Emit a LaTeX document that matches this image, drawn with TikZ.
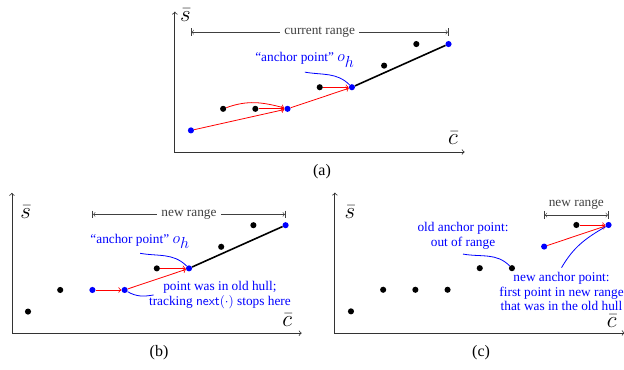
\documentclass[tikz,border=0pt]{standalone}
\usepackage{fontspec}
\setmainfont{Liberation Serif}
\usepackage{amsmath}
\usetikzlibrary{arrows}

\tikzset{
  pt/.style={circle,fill=black,inner sep=0pt,minimum size=4.6pt},
  axis/.style={<->,black!80,semithick},
  nxt/.style={->,red,semithick},
  hull/.style={very thick},
  span/.style={|<->|,black!75},
  note/.style={blue,align=center,font=\fontsize{10}{11}\selectfont},
  link/.style={blue,semithick},
  lbl/.style={font=\LARGE},
}
\newcommand{\oh}{{\large$o_{\textstyle h}$}}

\begin{document}
\begin{tikzpicture}[x=0.85cm,y=0.57cm]
\useasboundingbox (0,0) rectangle (19.38,17.13);

% (a) current range
\begin{scope}[shift={(5.43,10.09)}]
  \draw[axis] (0,6.5) |- (9,0);
  \node[lbl] (as) at (0.33,6.34) {$\bar{s}$};
  \node[lbl] (ac) at (8.64,0.63) {$\bar{c}$};
  \foreach \i/\x/\y/\c in {0/0.5/1/blue,1/1.5/2/black,2/2.5/2/black,3/3.5/2/blue,4/4.5/3/black,5/5.5/3/blue,6/6.5/4/black,7/7.5/5/black,8/8.5/5/blue}
    \node[pt,fill=\c] (a\i) at (\x,\y) {};
  \draw[hull] (a5) -- (a8);
  \draw[nxt] (a0) -- (a3);
  \draw[nxt] (a1) to[out=20,in=165] (a3);
  \draw[nxt] (a2) -- (a3);
  \draw[nxt] (a3) -- (a5);
  \draw[nxt] (a4) -- (a5);
  \coordinate (al) at (0.5,5.55);
  \coordinate (ar) at (8.5,5.55);
  \draw[span] (al) -- (ar) node[midway,fill=white] {current range};
  \node[note] (aanc) at (4.04,4.26) {``anchor point'' \oh};
  \draw[link] (aanc.south) to[out=-10,in=135] (a5);
\end{scope}

% (b) anchor point still in range
\begin{scope}[shift={(0.37,1.70)}]
  \draw[axis] (0,6.5) |- (9,0);
  \node[lbl] (bs) at (0.43,5.6) {$\bar{s}$};
  \node[lbl] (bc) at (8.55,0.62) {$\bar{c}$};
  \foreach \i/\x/\y/\c in {0/0.5/1/black,1/1.5/2/black,2/2.5/2/blue,3/3.5/2/blue,4/4.5/3/black,5/5.5/3/blue,6/6.5/4/black,7/7.5/5/black,8/8.5/5/blue}
    \node[pt,fill=\c] (b\i) at (\x,\y) {};
  \draw[hull] (b5) -- (b8);
  \draw[nxt] (b2) -- (b3);
  \draw[nxt] (b3) -- (b5);
  \draw[nxt] (b4) -- (b5);
  \coordinate (bl) at (2.5,5.5);
  \coordinate (br) at (8.5,5.5);
  \draw[span] (bl) -- (br) node[midway,fill=white] {new range};
  \node[note] (banc) at (3.98,4.26) {``anchor point'' \oh};
  \draw[link] (banc.south) to[out=-10,in=135] (b5);
  \node[note] (bnote) at (6.46,1.77) {point was in old hull;\\tracking $\mathsf{next}(\cdot)$ stops here};
  \draw[link] (b3) to[out=-30,in=190] ([xshift=7pt]bnote.west);
\end{scope}

% (c) anchor point out of range
\begin{scope}[shift={(10.40,1.71)}]
  \draw[axis] (0,6.5) |- (9,0);
  \node[lbl] (cs) at (0.47,5.6) {$\bar{s}$};
  \node[lbl] (cc) at (8.6,0.54) {$\bar{c}$};
  \foreach \i/\x/\y/\c in {0/0.5/1/black,1/1.5/2/black,2/2.5/2/black,3/3.5/2/black,4/4.5/3/black,5/5.5/3/black,6/6.5/4/blue,7/7.5/5/black,8/8.5/5/blue}
    \node[pt,fill=\c] (c\i) at (\x,\y) {};
  \draw[nxt] (c6) -- (c8);
  \draw[nxt] (c7) -- (c8);
  \coordinate (cl) at (6.5,5.46);
  \coordinate (cr) at (8.5,5.46);
  \draw[span] (cl) -- (cr) node[midway,above=1pt] {new range};
  \node[note] (cold) at (3.98,4.49) {old anchor point:\\out of range};
  \draw[link] (cold.south) to[out=-10,in=135] (c5);
  \node[note] (cnew) at (7.04,1.91) {new anchor point:\\first point in new range\\that was in the old hull};
  \draw[link] (cnew.north) to[out=60,in=-150] (c8);
\end{scope}

\node[font=\fontsize{12}{14}\selectfont] (capa) at (10.0,9.17) {(a)};
\node[font=\fontsize{12}{14}\selectfont] (capb) at (4.94,0.79) {(b)};
\node[font=\fontsize{12}{14}\selectfont] (capc) at (14.94,0.79) {(c)};
\end{tikzpicture}
\end{document}
